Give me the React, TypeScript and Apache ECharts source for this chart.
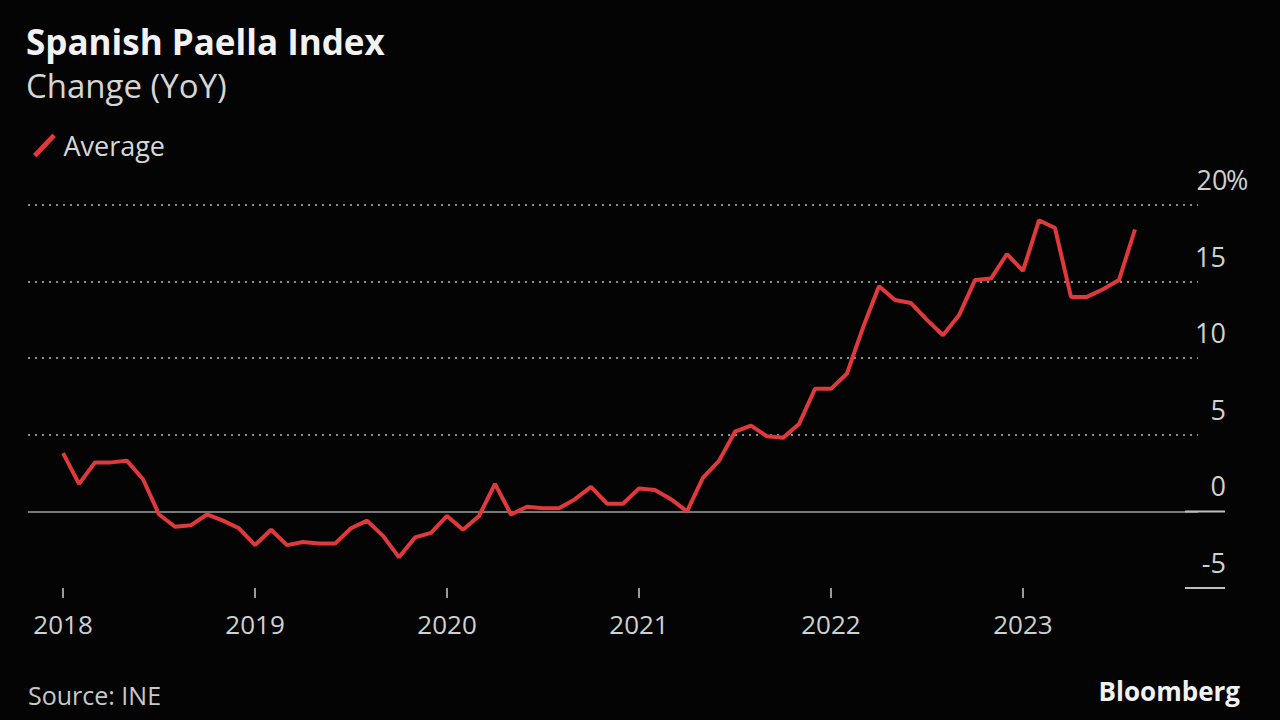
import React, { useEffect, useRef } from "react";
import * as echarts from "echarts";

const startYear = 2018;
const yearTicks = [0, 12, 24, 36, 48, 60];
const markedLevels = [-5, 0];
// Monthly YoY change, Jan 2018 .. Aug 2023 (%)
const values2018 = [3.8, 1.8, 3.2, 3.2, 3.3, 2.1, -0.2, -1.0, -0.9, -0.2, -0.6, -1.1];
const values2019 = [-2.2, -1.2, -2.2, -2.0, -2.1, -2.1, -1.1, -0.6, -1.6, -3.0, -1.7, -1.4];
const values2020 = [-0.3, -1.2, -0.3, 1.8, -0.2, 0.3, 0.2, 0.2, 0.8, 1.6, 0.5, 0.5];
const values2021 = [1.5, 1.4, 0.8, 0.0, 2.2, 3.3, 5.2, 5.6, 4.9, 4.8, 5.7, 8.0];
const values2022 = [8.0, 9.0, 12.0, 14.7, 13.8, 13.6, 12.5, 11.5, 12.8, 15.1, 15.2, 16.8];
const values2023 = [15.7, 19.0, 18.5, 14.0, 14.0, 14.5, 15.1, 18.4];
const average = [...values2018, ...values2019, ...values2020, ...values2021, ...values2022, ...values2023];

const title = "Spanish Paella Index";
const subtitle = "Change (YoY)";
const seriesName = "Average";
const source = "Source: INE";
const brand = "Bloomberg";

const FONT = "'Open Sans', 'Noto Sans', sans-serif";
const LABEL = "#d0d0d0";

export default function App() {
  const ref = useRef<HTMLDivElement>(null);
  useEffect(() => {
    if (!ref.current) return;
    const chart = echarts.init(ref.current, null, { renderer: "svg" });
    const footer = [
      {
        type: "text",
        left: 28,
        top: 682,
        style: { text: source, fill: "#c8c8c8", fontSize: 25, fontFamily: FONT },
      },
      {
        type: "text",
        right: 40,
        top: 678,
        style: { text: brand, fill: "#f2f2f2", fontSize: 26, fontWeight: "bold", fontFamily: FONT },
      },
    ];
    chart.setOption({
      animation: false,
      backgroundColor: "#040404",
      textStyle: { fontFamily: FONT },
      title: {
        text: title,
        subtext: subtitle,
        left: 21,
        top: 19,
        itemGap: 10,
        textStyle: { color: "#f2f2f2", fontSize: 35, fontWeight: "bold", fontFamily: FONT },
        subtextStyle: { color: "#d6d6d6", fontSize: 33, fontFamily: FONT },
      },
      legend: {
        left: 28,
        top: 127,
        itemWidth: 24,
        itemHeight: 24,
        itemGap: 10,
        icon: "path://M0,20 L17,2 L20,5 L3,23 Z",
        textStyle: { color: "#d6d6d6", fontSize: 27, fontFamily: FONT, padding: [0, 0, 0, 2] },
        data: [seriesName],
      },
      grid: { left: 28, right: 82, top: 205, bottom: 132, containLabel: false },
      xAxis: {
        type: "value",
        min: -2.19,
        max: 70.94,
        splitLine: { show: false },
        axisLine: { show: false, onZero: false },
        axisTick: {
          show: true,
          customValues: yearTicks,
          length: 10,
          lineStyle: { color: "#9a9a9a", width: 2 },
        },
        axisLabel: {
          customValues: yearTicks,
          formatter: (v: number) => String(startYear + Math.round(v / 12)),
          color: LABEL,
          fontSize: 26,
          margin: 23,
          fontFamily: FONT,
        },
      },
      yAxis: {
        type: "value",
        position: "right",
        min: -5,
        max: 20,
        interval: 5,
        axisLine: { show: false },
        axisTick: { show: false },
        splitLine: {
          show: true,
          showMinLine: false,
          lineStyle: { color: "#8a8a8a", width: 2, type: [2, 5] },
        },
        axisLabel: {
          align: "left",
          verticalAlign: "bottom",
          margin: 0,
          padding: [0, 0, 12, 0],
          color: LABEL,
          fontSize: 27,
          fontFamily: FONT,
          formatter: (v: number) => (v === 20 ? "{n|20}{p|%}" : "{n|" + v + "}"),
          rich: {
            n: { color: LABEL, fontSize: 27, fontFamily: FONT, width: 28, align: "right" },
            p: { color: LABEL, fontSize: 27, fontFamily: FONT },
          },
        },
      },
      series: [
        {
          name: seriesName,
          type: "line",
          data: average.map((v, i) => [i, v]),
          showSymbol: false,
          symbol: "none",
          color: "#e0393b",
          lineStyle: { color: "#e0393b", width: 4 },
          z: 3,
          markLine: {
            silent: true,
            symbol: "none",
            label: { show: false },
            lineStyle: { color: "#777777", width: 2, type: "solid" },
            data: [{ yAxis: 0 }],
            z: 2,
          },
        },
      ],
      graphic: footer,
    });
    const levelMarks = markedLevels.map((lv) => {
      const y = chart.convertToPixel({ yAxisIndex: 0 }, lv) as number;
      return {
        type: "line",
        shape: { x1: 1185, y1: y, x2: 1225, y2: y },
        style: { stroke: "#bdbdbd", lineWidth: 2 },
        z: 10,
      };
    });
    chart.setOption({ graphic: [...footer, ...levelMarks] });
    return () => chart.dispose();
  }, []);
  return (
    <div
      ref={ref}
      style={{ position: "absolute", left: 0, top: 0, width: 1280, height: 720 }}
    />
  );
}
